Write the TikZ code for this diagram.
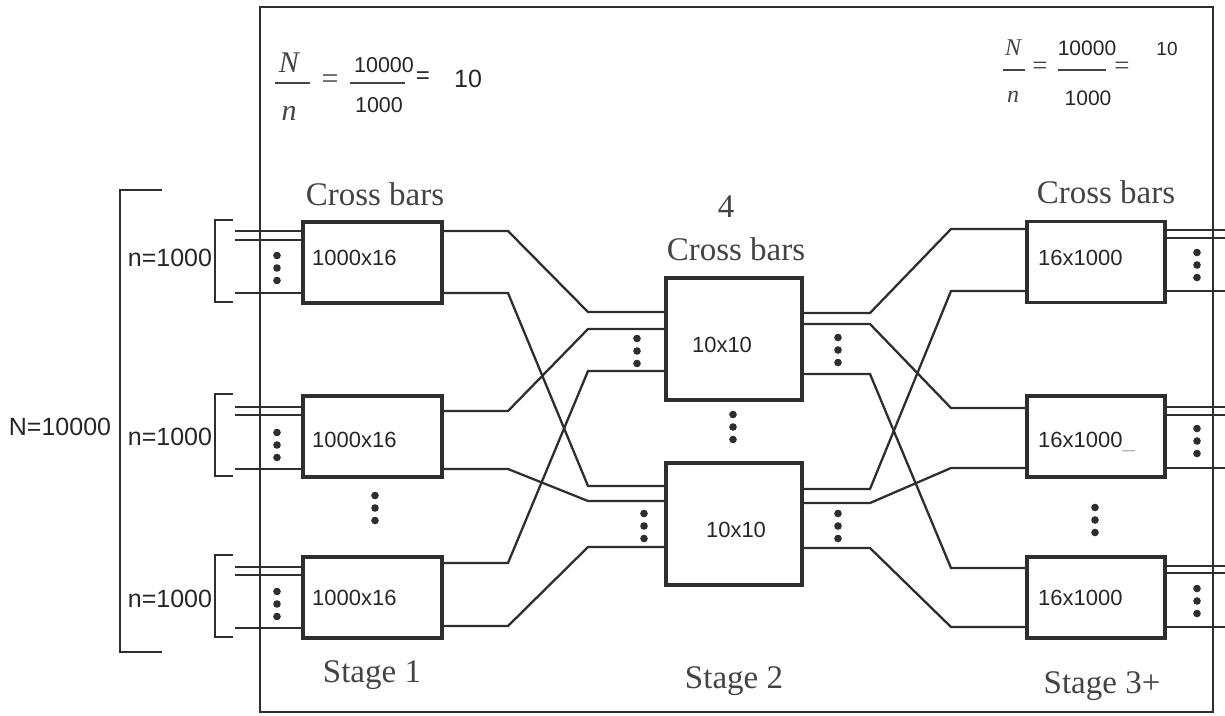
\documentclass[tikz,border=0pt]{standalone}
\usepackage{fontspec}
\setmainfont{Liberation Serif}
\setsansfont{Liberation Sans}
\usetikzlibrary{calc}
\definecolor{wire}{HTML}{2E2E2E}
\definecolor{txt}{HTML}{444444}
\tikzset{
cbox/.style={draw=wire, line width=3.4pt, inner sep=0pt,
  minimum width=138pt, minimum height=81pt},
link/.style={draw=wire, line width=2.3pt},
lab/.style={inner sep=0pt, anchor=base, text=black!85,
  font=\sffamily\fontsize{22}{22}\selectfont},
nlab/.style={lab, font=\sffamily\fontsize{25}{25}\selectfont},
ser/.style={inner sep=0pt, anchor=base, text=txt,
  font=\fontsize{33}{33}\selectfont},
ital/.style={ser, font=\itshape\fontsize{30}{30}\selectfont},
fbar/.style={draw=txt, line width=1.8pt}
}
% three dots stacked round a point
\newcommand{\dotcol}[1]{\foreach \k in {-1,0,1} \fill[wire] (#1) ++(0,\k*12.5) circle (3.8pt);}

\begin{document}
\begin{tikzpicture}[x=1pt, y=-1pt]
\useasboundingbox (0,0) rectangle (1225,715);

% frame
\draw[wire, line width=2pt] (260,7) rectangle (1213,712);

% stage 1
\node[cbox, minimum width=139pt] (s1a) at (372.5,262.5) {};
\node[cbox, minimum width=139pt] (s1b) at (372.5,436.5) {};
\node[cbox, minimum width=139pt] (s1c) at (372.5,597.5) {};

% stage 2
\node[cbox, minimum width=136pt, minimum height=122pt] (m1) at (734,339) {};
\node[cbox, minimum width=136pt, minimum height=122pt] (m2) at (734,524) {};

% stage 3
\node[cbox] (s3a) at (1096,262) {};
\node[cbox] (s3b) at (1096,436.5) {};
\node[cbox] (s3c) at (1096,597.5) {};

% inputs
\coordinate (inL) at (235,0);
\foreach \b/\y in {s1a/231, s1a/240, s1a/293, s1b/407, s1b/415, s1b/469,
  s1c/567, s1c/575, s1c/628}
  \draw[link] (\b.west |- 0,\y) -- (inL |- 0,\y);
\foreach \b in {s1a,s1b,s1c}
  \draw[link] (\b.north west) ++(-68,0) -- ++(-18,0) -- ++(0,82) -- ++(18,0);
\draw[link] (162,190) -- (120,190) -- (120,652) -- (162,652);

% stage 1 -> stage 2
\coordinate (lb) at (508,0);
\coordinate (rb) at (588,0);
\foreach \a/\ya/\b/\yb in {s1a/231/m1/312, s1a/293/m2/486, s1b/411/m1/329,
  s1b/469/m2/501, s1c/563/m1/371, s1c/626/m2/547}
  \draw[link] (\a.east |- 0,\ya) -- (lb |- 0,\ya) -- (rb |- 0,\yb) -- (\b.west |- 0,\yb);

% stage 2 -> stage 3
\coordinate (lc) at (870,0);
\coordinate (rc) at (951,0);
\foreach \a/\ya/\b/\yb in {m1/313/s3a/229, m1/324/s3b/408, m1/374/s3c/568,
  m2/489/s3a/291, m2/503/s3b/468, m2/548/s3c/627}
  \draw[link] (\a.east |- 0,\ya) -- (lc |- 0,\ya) -- (rc |- 0,\yb) -- (\b.west |- 0,\yb);

% outputs
\coordinate (outR) at (1225,0);
\foreach \b/\y in {s3a/230, s3a/238, s3a/291, s3b/407, s3b/415, s3b/468,
  s3c/566, s3c/573, s3c/627}
  \draw[link] (\b.east |- 0,\y) -- (outR |- 0,\y);

% dots
\dotcol{277,268} \dotcol{277,445} \dotcol{277,604}
\dotcol{375,508}
\dotcol{637,351} \dotcol{644,526}
\dotcol{733,427}
\dotcol{838,350} \dotcol{838,526}
\dotcol{1095,520}
\dotcol{1197,265} \dotcol{1197,441} \dotcol{1197,601}

% titles
\node[ser] (cb1) at (375,205) {Cross bars};
\node[ser] (cb2n) at (726,217) {4};
\node[ser] (cb2) at (736,260) {Cross bars};
\node[ser] (cb3) at (1106,203) {Cross bars};
\node[ser] (st1) at (372,682) {Stage 1};
\node[ser] (st2) at (734,688) {Stage 2};
\node[ser] (st3) at (1102,693) {Stage 3+};

% sizes
\node[nlab] (bigN) at (60,435) {N=10000};
\node[nlab] (na) at (170,266) {n=1000};
\node[nlab] (nb) at (170,445) {n=1000};
\node[nlab] (nc) at (170,607) {n=1000};
\node[lab, anchor=base west] (t1a) at (312,265) {1000x16};
\node[lab, anchor=base west] (t1b) at (312,447) {1000x16};
\node[lab, anchor=base west] (t1c) at (312,605) {1000x16};
\node[lab] (t2a) at (722,352) {10x10};
\node[lab] (t2b) at (736,537) {10x10};
\node[lab, anchor=base west] (t3a) at (1038,265) {16x1000};
\node[lab, anchor=base west] (t3b) at (1038,447) {16x1000\textcolor{black!30}{\_}};
\node[lab, anchor=base west] (t3c) at (1038,605) {16x1000};

% N/n formula, left
\node[ital] (fN1) at (289,72) {N};
\draw[fbar] (275,83) -- (310,83);
\node[ital] (fn1) at (289,120) {n};
\node[ser, anchor=center, font=\fontsize{30}{30}\selectfont] (fe1) at (330,82) {=};
\node[lab, font=\sffamily\fontsize{21.5}{22}\selectfont] (fa1) at (384,72) {10000};
\draw[fbar] (350,83) -- (405,83);
\node[lab, font=\sffamily\fontsize{21.5}{22}\selectfont] (fb1) at (379,112) {1000};
\node[lab, anchor=center, font=\sffamily\fontsize{24}{24}\selectfont] (fe2) at (423,78) {=};
\node[lab, font=\sffamily\fontsize{25}{25}\selectfont] (fr1) at (468,87) {10};

% N/n formula, right
\node[ital, font=\itshape\fontsize{24}{24}\selectfont] (fN2) at (1013,55) {N};
\draw[fbar] (1003,70) -- (1025,70);
\node[ital, font=\itshape\fontsize{24}{24}\selectfont] (fn2) at (1013,102) {n};
\node[ser, anchor=center, font=\fontsize{27}{27}\selectfont] (fe3) at (1040,68) {=};
\node[lab, font=\sffamily\fontsize{21}{21}\selectfont] (fa2) at (1087,55) {10000};
\draw[fbar] (1058,70) -- (1106,70);
\node[lab, font=\sffamily\fontsize{21}{21}\selectfont] (fb2) at (1088,105) {1000};
\node[ser, anchor=center, font=\fontsize{27}{27}\selectfont] (fe4) at (1122,68) {=};
\node[lab, font=\sffamily\fontsize{19}{19}\selectfont] (fr2) at (1167,55) {10};
\end{tikzpicture}
\end{document}
